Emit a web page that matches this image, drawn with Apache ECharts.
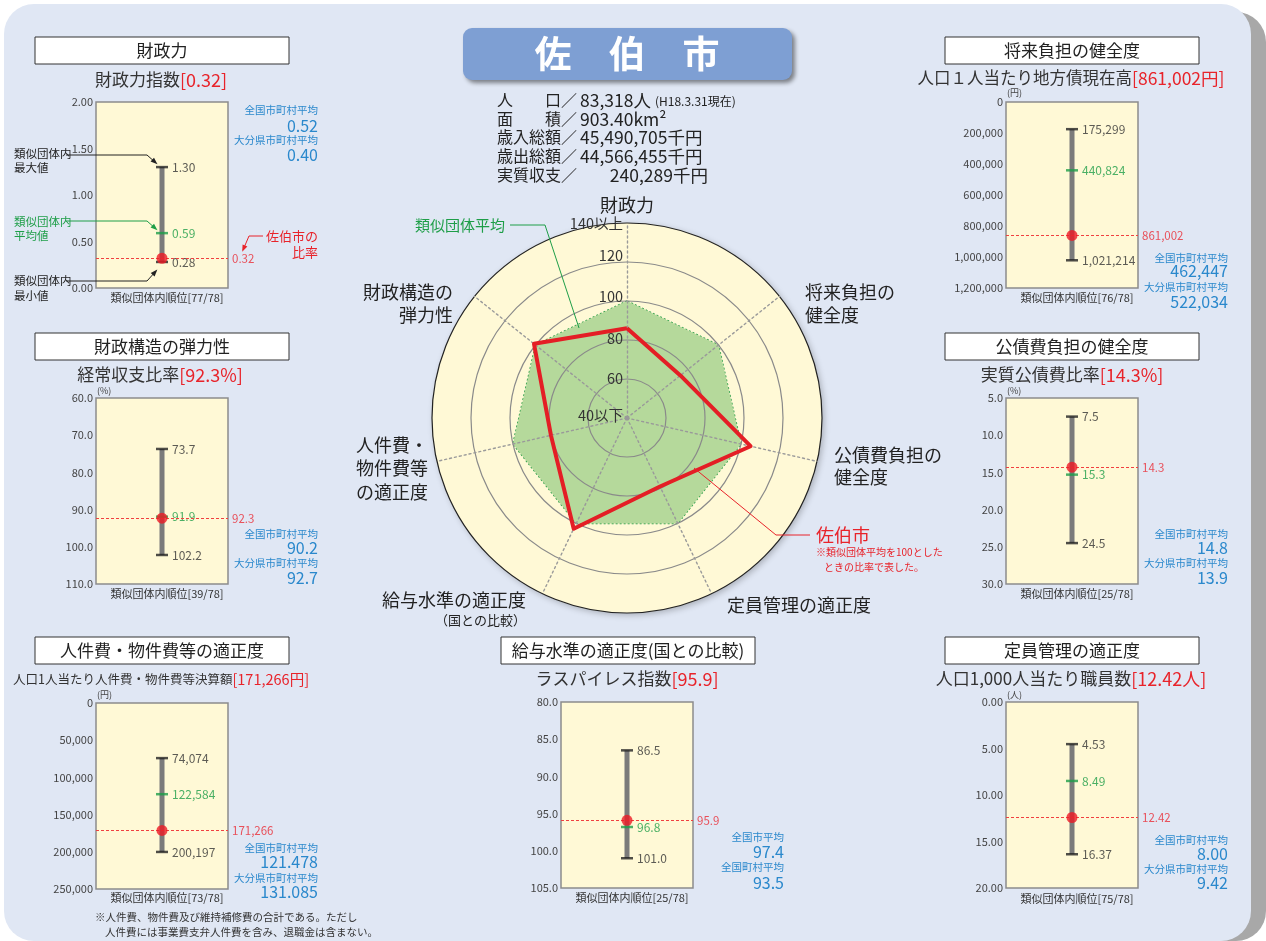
<!DOCTYPE html>
<html><head><meta charset="utf-8">
<script src="https://cdn.jsdelivr.net/npm/echarts@6/dist/echarts.min.js"></script>
<style>html,body{margin:0;padding:0;background:#fff}#c{width:1266px;height:941px}</style>
</head><body><div id="c"></div>
<script>
// ---------- data ----------
const panelTitles = ['財政力','財政構造の弾力性','人件費・物件費等の適正度','将来負担の健全度','公債費負担の健全度','定員管理の適正度','給与水準の適正度(国との比較)'];
const metricNames = ['財政力指数','経常収支比率','人口1人当たり人件費・物件費等決算額','人口１人当たり地方債現在高','実質公債費比率','人口1,000人当たり職員数','ラスパイレス指数'];
const metricShown = ['[0.32]','[92.3%]','[171,266円]','[861,002円]','[14.3%]','[12.42人]','[95.9]'];
const rangeMin = [0.28, 73.7, 74074, 175299, 7.5, 4.53, 86.5];
const rangeMax = [1.30, 102.2, 200197, 1021214, 24.5, 16.37, 101.0];
const groupAvg = [0.59, 91.9, 122584, 440824, 15.3, 8.49, 96.8];
const cityValue = [0.32, 92.3, 171266, 861002, 14.3, 12.42, 95.9];
const avgLabelA = ['全国市町村平均','全国市町村平均','全国市町村平均','全国市町村平均','全国市町村平均','全国市町村平均','全国市平均'];
const avgValueA = ['0.52','90.2','121.478','462,447','14.8','8.00','97.4'];
const avgLabelB = ['大分県市町村平均','大分県市町村平均','大分県市町村平均','大分県市町村平均','大分県市町村平均','大分県市町村平均','全国町村平均'];
const avgValueB = ['0.40','92.7','131.085','522,034','13.9','9.42','93.5'];
const rankText = ['77/78','39/78','73/78','76/78','25/78','75/78','25/78'];
const axisMin = [0, 60, 0, 0, 5, 0, 80];
const axisMax = [2, 110, 250000, 1200000, 30, 20, 105];
const axisStep = [0.5, 10, 50000, 200000, 5, 5, 5];
const axisDecimals = [2, 1, 0, 0, 1, 2, 1];
const axisInverse = [false, true, true, true, true, true, true];
const axisUnit = ['', '(%)', '(円)', '(円)', '(%)', '(人)', ''];

const radarAxes = ['財政力','財政構造の弾力性','人件費・物件費等の適正度','給与水準の適正度','定員管理の適正度','公債費負担の健全度','将来負担の健全度'];
const radarCity = [86, 101, 80, 103, 79, 105, 75];
const radarGroup = [100, 100, 100, 100, 100, 100, 100];
const radarRingLabels = ['40以下','60','80','100','120','140以上'];

const infoLabels = ['人　　口／','面　　積／','歳入総額／','歳出総額／','実質収支／'];
const infoValues = ['83,318人','903.40km²','45,490,705千円','44,566,455千円','240,289千円'];
const infoNote = '(H18.3.31現在)';
const cityName = '佐　伯　市';

// ---------- layout ----------
const FONT = "'Noto Sans CJK JP', 'Noto Sans', sans-serif";
const PW = 132, PH = 186;
const layout = [
 {gx:96, gy:102, tb:[35,37], sub:[161,80], fs:[17,18], right:318, rightY:[110,126,140,155], rank:[167,298], unit:[97,93]},
 {gx:96, gy:398, tb:[35,333], sub:[160,375], fs:[17,18], right:318, rightY:[534,548,563,578], rank:[167,594], unit:[97,391]},
 {gx:96, gy:703, tb:[35,637], sub:[161,679], fs:[12.5,14.5], right:318, rightY:[848,862,878,892], rank:[167,898], unit:[97,695]},
 {gx:1006, gy:102, tb:[945,37], sub:[1071,78], fs:[16.5,17.5], right:1228, rightY:[258,271,287,302], rank:[1077,298], unit:[1007,93]},
 {gx:1006, gy:398, tb:[945,333], sub:[1072,375], fs:[17,18], right:1228, rightY:[534,548,563,578], rank:[1077,594], unit:[1007,391]},
 {gx:1006, gy:702, tb:[945,637], sub:[1071,679], fs:[17,18], right:1228, rightY:[840,854,869,883], rank:[1077,899], unit:[1007,695]},
 {gx:561, gy:702, tb:[501,637], sub:[627,679], fs:[17,18], right:784, rightY:[837,852,867,883], rank:[632,898], unit:[567,695]}
];

function fmt(v, i) {
  const d = axisDecimals[i];
  if (d === 0) return Math.round(v).toLocaleString('en-US');
  return v.toFixed(d);
}

const g = [];
function txt(x, y, text, size, color, align, extra) {
  g.push(Object.assign({type:'text', x:x, y:y, z:20, style:{text:text, fill:color, fontSize:size, fontFamily:FONT, textAlign:align||'left', textVerticalAlign:'middle'}}, extra||{}));
}
function line(pts, color, w, z) {
  g.push({type:'polyline', z:z||20, shape:{points:pts}, style:{stroke:color, lineWidth:w||1, fill:null}});
}
function arrow(pts, color) {
  line(pts, color, 1);
  const a = pts[pts.length-2], b = pts[pts.length-1];
  const dx = b[0]-a[0], dy = b[1]-a[1], L = Math.hypot(dx,dy);
  const ux = dx/L, uy = dy/L, nx = -uy, ny = ux;
  g.push({type:'polygon', z:20, shape:{points:[[b[0]+ux*2,b[1]+uy*2],[b[0]-ux*5+nx*2.6,b[1]-uy*5+ny*2.6],[b[0]-ux*5-nx*2.6,b[1]-uy*5-ny*2.6]]}, style:{fill:color}});
}

// background
g.push({type:'rect', z:-100, shape:{x:14, y:12, width:1252, height:929, r:30}, style:{fill:'#a8a8a8'}});
g.push({type:'rect', z:-99, shape:{x:4, y:4, width:1247, height:937, r:30}, style:{fill:'#e0e7f4'}});

// banner
g.push({type:'rect', z:1, shape:{x:463, y:28, width:329, height:52, r:9}, style:{fill:'#7e9fd3', shadowBlur:4, shadowOffsetX:3, shadowOffsetY:3, shadowColor:'rgba(0,0,0,0.45)'}});
g.push({type:'text', x:627, y:54, z:20, style:{text:cityName, fill:'#fff', fontSize:37, fontFamily:FONT, fontWeight:'bold', textAlign:'center', textVerticalAlign:'middle'}});

// info lines
const infoY = [100, 119, 137, 156, 175];
infoLabels.forEach((l, k) => {
  txt(497, infoY[k], l, 16, '#222', 'left');
  if (k === 4) txt(708, infoY[k], infoValues[k], 17.5, '#222', 'right');
  else txt(580, infoY[k], infoValues[k], 17.5, '#222', 'left');
});
txt(655, 101, infoNote, 12, '#222', 'left');

// panels
const grids = [], xAxes = [], yAxes = [], series = [];
panelTitles.forEach((t, i) => {
  const L = layout[i];
  grids.push({left:L.gx, top:L.gy, width:PW, height:PH, show:true, backgroundColor:'#fff9d6', borderColor:'#8c8c8c', borderWidth:1.5});
  xAxes.push({gridIndex:i, type:'value', min:0, max:1, show:false});
  yAxes.push({gridIndex:i, type:'value', min:axisMin[i], max:axisMax[i], interval:axisStep[i], inverse:axisInverse[i],
    axisLine:{show:false}, axisTick:{show:false}, splitLine:{show:false},
    axisLabel:{fontSize:11, color:'#444', margin:3, fontFamily:FONT, formatter:v => fmt(v, i)}});
  series.push({type:'line', xAxisIndex:i, yAxisIndex:i, data:[[0.5,rangeMin[i]],[0.5,rangeMax[i]]], symbol:'none', silent:true, z:2,
    lineStyle:{color:'#7b7b7b', width:5},
    markLine:{symbol:'none', silent:true, data:[{yAxis:cityValue[i]}], lineStyle:{type:[3,2], color:'#f04040', width:1},
      label:{position:'end', distance:4, formatter:() => fmt(cityValue[i], i), color:'#e8505a', fontSize:11.5, fontFamily:FONT}}});
  series.push({type:'scatter', xAxisIndex:i, yAxisIndex:i, data:[[0.5,rangeMin[i]],[0.5,rangeMax[i]]], symbol:'rect', symbolSize:[12,2.5], z:3, silent:true,
    itemStyle:{color:'#222'}, label:{show:true, position:'right', distance:4, formatter:p => fmt(p.value[1], i), color:'#333', fontSize:12, fontFamily:FONT}});
  series.push({type:'scatter', xAxisIndex:i, yAxisIndex:i, data:[[0.5,groupAvg[i]]], symbol:'rect', symbolSize:[12,2.5], z:3, silent:true,
    itemStyle:{color:'#1e9e48'}, label:{show:true, position:'right', distance:4, formatter:p => fmt(p.value[1], i), color:'#1e9e48', fontSize:12, fontFamily:FONT}});
  series.push({type:'scatter', xAxisIndex:i, yAxisIndex:i, data:[[0.5,cityValue[i]]], symbol:'circle', symbolSize:11, z:5, silent:true,
    itemStyle:{color:'#ee1c25'}});

  // title box
  g.push({type:'rect', z:1, shape:{x:L.tb[0], y:L.tb[1], width:254, height:27}, style:{fill:'#fff', stroke:'#333', lineWidth:1}});
  txt(L.tb[0]+127, L.tb[1]+14, t, 17, '#222', 'center');
  // subtitle
  g.push({type:'text', x:L.sub[0], y:L.sub[1], z:20, style:{text:'{a|'+metricNames[i]+'}{b|'+metricShown[i]+'}',
    rich:{a:{fontSize:L.fs[0], fill:'#333', fontFamily:FONT}, b:{fontSize:L.fs[1], fill:'#e8232a', fontFamily:FONT}},
    textAlign:'center', textVerticalAlign:'middle'}});
  // averages
  txt(L.right, L.rightY[0], avgLabelA[i], 10.5, '#2a88cc', 'right');
  txt(L.right, L.rightY[1], avgValueA[i], 16, '#2a88cc', 'right');
  txt(L.right, L.rightY[2], avgLabelB[i], 10.5, '#2a88cc', 'right');
  txt(L.right, L.rightY[3], avgValueB[i], 16, '#2a88cc', 'right');
  // rank
  txt(L.rank[0], L.rank[1], '類似団体内順位[' + rankText[i] + ']', 11, '#333', 'center');
  if (axisUnit[i]) txt(L.unit[0], L.unit[1], axisUnit[i], 9, '#444', 'left');
});

// panel-1 annotations
txt(14, 154, '類似団体内', 11.5, '#222'); txt(14, 168, '最大値', 11.5, '#222');
arrow([[66,155],[147,155],[156,163]], '#222');
txt(14, 222, '類似団体内', 11.5, '#1e9e48'); txt(14, 236, '平均値', 11.5, '#1e9e48');
arrow([[66,221],[147,221],[156,229]], '#1e9e48');
txt(14, 281, '類似団体内', 11.5, '#222'); txt(14, 296, '最小値', 11.5, '#222');
arrow([[66,281],[147,281],[156,271]], '#222');
txt(318, 236, '佐伯市の', 13, '#e8232a', 'right'); txt(318, 252, '比率', 13, '#e8232a', 'right');
arrow([[263,236],[249,236],[243,250]], '#e8232a');

// footnote
txt(95, 917, '※人件費、物件費及び維持補修費の合計である。ただし', 10.5, '#333');
txt(105, 932, '人件費には事業費支弁人件費を含み、退職金は含まない。', 10.5, '#333');

// radar labels
txt(627, 205, radarAxes[0], 18, '#222', 'center');
txt(453, 292, '財政構造の', 18, '#222', 'right'); txt(453, 315, '弾力性', 18, '#222', 'right');
txt(805, 292, '将来負担の', 18, '#222', 'left'); txt(805, 315, '健全度', 18, '#222', 'left');
txt(834, 455, '公債費負担の', 18, '#222', 'left'); txt(834, 477, '健全度', 18, '#222', 'left');
txt(727, 605, radarAxes[4], 18, '#222', 'left');
txt(526, 600, radarAxes[3], 18, '#222', 'right'); txt(526, 620, '（国との比較）', 13, '#222', 'right');
txt(428, 445, '人件費・', 18, '#222', 'right'); txt(428, 468, '物件費等', 18, '#222', 'right'); txt(428, 492, 'の適正度', 18, '#222', 'right');
const ringY = [415, 378, 338, 296, 255, 223];
radarRingLabels.forEach((r, k) => txt(623, ringY[k], r, 14.5, '#333', 'right', {z:30}));
g.push({type:'circle', z:30, shape:{cx:627, cy:418, r:2.5}, style:{fill:'#999'}});
txt(415, 225, '類似団体平均', 15, '#1e9e48', 'left');
line([[510,225],[545,225],[579,328]], '#1e9e48', 1, 30);
txt(816, 535, '佐伯市', 18, '#e8232a', 'left');
txt(816, 552, '※類似団体平均を100とした', 10, '#e8232a', 'left');
txt(824, 567, 'ときの比率で表した。', 10, '#e8232a', 'left');
line([[694,468],[776,535],[810,535]], '#e8232a', 1, 30);

// radar
const indicators = radarAxes.map(n => ({name:n, min:40, max:140}));
const radarBase = {indicator:indicators, center:[627,418], radius:195, startAngle:90, splitNumber:5, shape:'circle',
  axisName:{show:false}, axisLabel:{show:false}, axisTick:{show:false}};
const radars = [
  Object.assign({}, radarBase, {z:0, splitArea:{show:true, areaStyle:{color:['#fff9d6'], shadowBlur:6, shadowOffsetX:2, shadowOffsetY:2, shadowColor:'rgba(0,0,0,0.25)'}}, splitLine:{show:false}, axisLine:{show:false}}),
  Object.assign({}, radarBase, {z:3, splitArea:{show:false},
    splitLine:{show:true, lineStyle:{color:['#999','#8a8a8a','#8a8a8a','#8a8a8a','#8a8a8a','#222'], width:1.2}},
    axisLine:{show:true, lineStyle:{color:'#9a9a9a', type:[2,3], width:1.4}}})
];
series.push({type:'radar', radarIndex:0, z:2, silent:true, symbol:'none', data:[
  {value:radarGroup, name:'類似団体平均', lineStyle:{color:'#2a9d48', type:[2,2], width:1.5}, areaStyle:{color:'#b5d99b', opacity:1}}]});
series.push({type:'radar', radarIndex:1, z:4, silent:true, symbol:'none', data:[
  {value:radarCity, name:'佐伯市', lineStyle:{color:'#e41e25', width:4}}]});

const chart = echarts.init(document.getElementById('c'), null, {renderer:'canvas'});
chart.setOption({
  animation:false,
  backgroundColor:'#ffffff',
  textStyle:{fontFamily:FONT},
  grid:grids, xAxis:xAxes, yAxis:yAxes, radar:radars, series:series,
  graphic:{elements:g}
});
</script></body></html>
